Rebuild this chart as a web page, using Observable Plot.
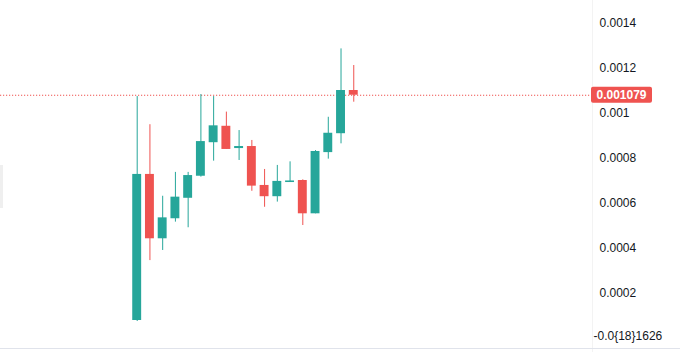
<!DOCTYPE html>
<html><head><meta charset="utf-8">
<script src="https://cdn.jsdelivr.net/npm/d3@7"></script>
<script src="https://cdn.jsdelivr.net/npm/@observablehq/plot@0.6"></script>
<style>
body{margin:0;background:#fff;}
#chart{position:relative;width:680px;height:352px;overflow:hidden;}
#chart svg{display:block;}
.bottomline{position:absolute;left:0;top:348px;width:680px;height:1px;background:#e0e3eb;}
.scrollmark{position:absolute;left:0;top:165px;width:3px;height:43px;background:#efefef;}
</style>
</head><body><div id="chart"></div>
<script>
const opens  = [0.0000778,0.000727,0.000441,0.000530,0.000621,0.000719,0.000868,0.000941,0.000842,0.000851,0.000678,0.000628,0.000691,0.000700,0.000552,0.000824,0.000908,0.001100];
const highs  = [0.001073,0.000948,0.000630,0.000736,0.000736,0.001082,0.001073,0.001004,0.000922,0.000878,0.000749,0.000767,0.000783,0.000703,0.000833,0.000981,0.001285,0.001211];
const lows   = [0.0000733,0.000344,0.000389,0.000515,0.000490,0.000715,0.000786,0.000838,0.000789,0.000652,0.000581,0.000604,0.000691,0.000500,0.000552,0.000795,0.000863,0.001048];
const closes = [0.000727,0.000441,0.000534,0.000626,0.000722,0.000873,0.000943,0.000838,0.000851,0.000675,0.000628,0.000696,0.000698,0.000552,0.000829,0.000910,0.001100,0.001079];
const tickValues = [0.0002, 0.0004, 0.0006, 0.0008, 0.001, 0.0012, 0.0014];
const tickLabels = ["0.0002", "0.0004", "0.0006", "0.0008", "0.001", "0.0012", "0.0014"];
const zeroTickValue = 0;
const zeroTickLabel = "-0.0{18}1626";
const lastPriceLabel = "0.001079";

const green = "#26a69a", red = "#ef5350";
const candles = opens.map((o, i) => ({i, open: o, high: highs[i], low: lows[i], close: closes[i], up: closes[i] >= o}));
const lastClose = closes[closes.length - 1];
const font = "'Liberation Sans', Arial, sans-serif";

const chart = Plot.plot({
  width: 680, height: 352,
  marginLeft: 0, marginRight: 88, marginTop: 0, marginBottom: 0,
  x: {domain: [-10.73, 35.74], axis: null},
  y: {domain: [-0.0000644, 0.0015], axis: null},
  style: {fontFamily: font, fontSize: "12px", background: "#fff", overflow: "visible"},
  marks: [
    Plot.ruleY([lastClose], {stroke: red, strokeDasharray: "1.2,1.8", strokeWidth: 1.1}),
    Plot.ruleX(candles, {x: "i", y1: "low", y2: "high", stroke: d => d.up ? green : red, strokeWidth: 1}),
    Plot.rect(candles, {
      x1: d => d.i - 0.35, x2: d => d.i + 0.35,
      y1: d => Math.min(d.open, d.close), y2: d => Math.max(d.open, d.close),
      fill: d => d.up ? green : red
    }),
    Plot.axisY(tickValues, {anchor: "right", tickSize: 0, tickPadding: 7, textAnchor: "start",
      tickFormat: d => tickLabels[tickValues.indexOf(d)], fill: "#131722"}),
    Plot.axisY([zeroTickValue], {anchor: "right", tickSize: 0, tickPadding: 1, textAnchor: "start",
      tickFormat: () => zeroTickLabel, fill: "#131722", dy: -2})
  ]
});

const host = document.getElementById("chart");
host.appendChild(chart);

const svg = d3.select(chart);
const yc = chart.scale("y").apply(lastClose);
svg.append("line").attr("x1", 592.5).attr("x2", 592.5).attr("y1", 0).attr("y2", 352)
  .attr("stroke", "#f3f3f3");
const g = svg.append("g");
g.append("rect").attr("x", 591).attr("y", yc - 8).attr("width", 61).attr("height", 16)
  .attr("rx", 2).attr("fill", red);
g.append("text").attr("x", 621.5).attr("y", yc).attr("dy", "0.35em")
  .attr("text-anchor", "middle").attr("fill", "#fff").attr("font-weight", "bold")
  .attr("font-size", 12).attr("font-family", font)
  .text(lastPriceLabel);

const bl = document.createElement("div"); bl.className = "bottomline"; host.appendChild(bl);
const sm = document.createElement("div"); sm.className = "scrollmark"; host.appendChild(sm);
</script>
</body></html>
